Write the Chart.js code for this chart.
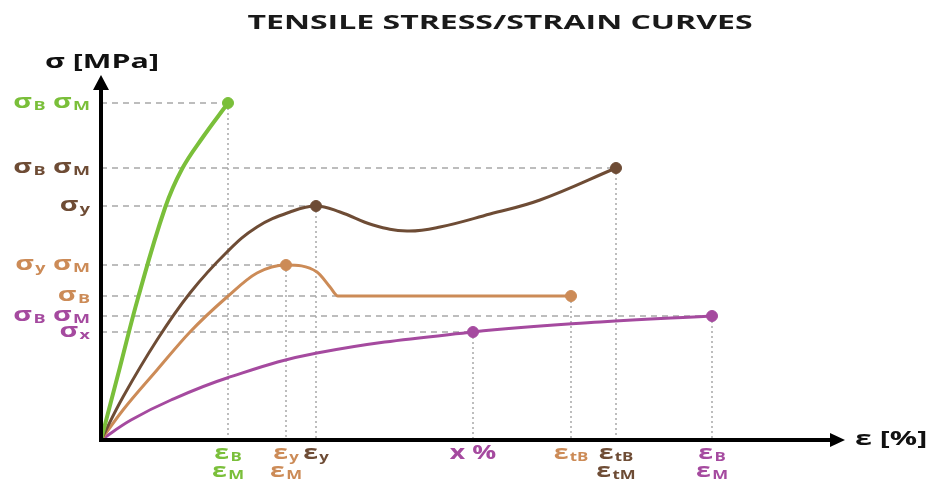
<!DOCTYPE html>
<html>
<head>
<meta charset="utf-8">
<script src="https://cdn.jsdelivr.net/npm/chart.js@4.4.1/dist/chart.umd.min.js"></script>
<style>
  html, body { margin: 0; padding: 0; background: #fff; }
  canvas { display: block; }
</style>
</head>
<body>
<canvas id="chart" width="928" height="482"></canvas>
<script>
'use strict';

// curves (strain in %, stress in MPa, arbitrary units)
var greenCurve = [[0,0],[1.9,7.3],[3.7,14.2],[6.4,23.2],[8.1,27.1],[10.2,30.3],[12.7,33.7]];
var brownCurve = [[0,0],[2.2,4.3],[5.6,10.0],[8.9,14.7],[12.6,18.8],[15.6,21.3],[18.9,22.8],[21.5,23.4],[23.9,22.8],[27.2,21.5],[30.6,20.9],[33.9,21.3],[38.9,22.6],[43.9,24.0],[51.5,27.2]];
var orangeCurve = [[0,0],[2.2,3.0],[5.6,7.0],[8.9,10.8],[12.6,14.3],[15.6,16.7],[18.5,17.5],[21.6,16.8],[22.9,15.3],[23.7,14.4],[26.0,14.4],[35.0,14.4],[47.0,14.4]];
var purpleCurve = [[0,0],[3.0,2.0],[7.0,4.0],[12.6,6.2],[21.6,8.7],[37.2,10.8],[49.9,11.8],[61.1,12.4]];

// marked points
var greenMarks = [[12.7,33.7]];
var brownMarks = [[21.5,23.4],[51.5,27.2]];
var orangeMarks = [[18.5,17.5],[47.0,14.4]];
var purpleMarks = [[37.2,10.8],[61.1,12.4]];

// tick labels
var yTickValues = [33.7, 27.2, 23.4, 17.5, 14.4, 12.4, 10.8];
var yTickLabels = ['σ_B σ_M', 'σ_B σ_M', 'σ_y', 'σ_y σ_M', 'σ_B', 'σ_B σ_M', 'σ_x'];
var yTickSeries = ['green', 'brown', 'brown', 'orange', 'orange', 'purple', 'purple'];

var xTickValues = [12.7, 18.5, 21.5, 37.2, 47.0, 51.5, 61.1];
var xTickLabels1 = ['ε_B', 'ε_y', 'ε_y', 'x %', 'ε_tB', 'ε_tB', 'ε_B'];
var xTickLabels2 = ['ε_M', 'ε_M', '', '', '', 'ε_tM', 'ε_M'];
var xTickSeries = ['green', 'orange', 'brown', 'purple', 'orange', 'brown', 'purple'];

var xMax = 74.4, yMax = 36.5;

var colors = {
   green: '#7abf3a',
   brown: '#6e4c35',
   orange: '#cc8b57',
   purple: '#a54a9f'
};

var FONT = '"Open Sans", sans-serif';

function pts(arr) {
   return arr.map(function (p) { return { x: p[0], y: p[1] }; });
}

var datasets = [];

// dashed guides from every marked point to both axes
[greenMarks, brownMarks, orangeMarks, purpleMarks].forEach(function (marks) {
   marks.forEach(function (m) {
      datasets.push({
         data: [{ x: 0, y: m[1] }, { x: m[0], y: m[1] }],
         borderColor: '#a8a8a8', borderWidth: 1.5, borderDash: [6, 5],
         pointRadius: 0, tension: 0, order: 10
      });
      datasets.push({
         data: [{ x: m[0], y: m[1] }, { x: m[0], y: 0 }],
         borderColor: '#a8a8a8', borderWidth: 1.5, borderDash: [2, 3],
         pointRadius: 0, tension: 0, order: 10
      });
   });
});

// orange has a sharp drop into a flat plateau, monotone keeps it from overshooting
[
   [greenCurve, greenMarks, 'green', 4, 'default'],
   [brownCurve, brownMarks, 'brown', 3, 'default'],
   [orangeCurve, orangeMarks, 'orange', 3, 'monotone'],
   [purpleCurve, purpleMarks, 'purple', 3, 'default']
].forEach(function (s) {
   datasets.push({
      data: pts(s[0]),
      borderColor: colors[s[2]], borderWidth: s[3],
      cubicInterpolationMode: s[4], tension: 0.4,
      pointRadius: 0, order: 5
   });
   datasets.push({
      data: pts(s[1]),
      showLine: false,
      backgroundColor: colors[s[2]], borderColor: colors[s[2]],
      pointRadius: 5.5, pointHoverRadius: 5.5, order: 1
   });
});

// text with a subscript part: "σ_B" -> σ + small B; sx stretches the glyphs sideways
function measureLabel(ctx, label, big, small, sx) {
   var w = 0;
   label.split(' ').forEach(function (tok, i) {
      var parts = tok.split('_');
      ctx.font = 'bold ' + big + 'px ' + FONT;
      if (i > 0) w += ctx.measureText(' ').width;
      w += ctx.measureText(parts[0]).width;
      if (parts[1]) {
         ctx.font = 'bold ' + small + 'px ' + FONT;
         w += ctx.measureText(parts[1]).width + 1;
      }
   });
   return w * sx;
}

function drawLabel(ctx, label, x, y, align, big, small, color, sx) {
   var w = measureLabel(ctx, label, big, small, sx);
   var cx = align === 'right' ? x - w : (align === 'center' ? x - w / 2 : x);
   ctx.save();
   ctx.fillStyle = color;
   ctx.textBaseline = 'alphabetic';
   ctx.textAlign = 'left';
   ctx.translate(cx, y);
   ctx.scale(sx, 1);
   var pos = 0;
   label.split(' ').forEach(function (tok, i) {
      var parts = tok.split('_');
      ctx.font = 'bold ' + big + 'px ' + FONT;
      if (i > 0) pos += ctx.measureText(' ').width;
      ctx.fillText(parts[0], pos, 0);
      pos += ctx.measureText(parts[0]).width;
      if (parts[1]) {
         pos += 1;
         ctx.font = 'bold ' + small + 'px ' + FONT;
         ctx.fillText(parts[1], pos, 1.5);
         pos += ctx.measureText(parts[1]).width;
      }
   });
   ctx.restore();
}

var decorations = {
   id: 'decorations',
   afterDraw: function (chart) {
      var ctx = chart.ctx;
      var xs = chart.scales.x, ys = chart.scales.y;
      var x0 = xs.getPixelForValue(0), y0 = ys.getPixelForValue(0);
      var xEnd = xs.getPixelForValue(xMax), yEnd = ys.getPixelForValue(yMax);

      // axes with arrow heads
      ctx.save();
      ctx.strokeStyle = '#000';
      ctx.fillStyle = '#000';
      ctx.lineWidth = 4;
      ctx.beginPath();
      ctx.moveTo(x0, y0 + 2);
      ctx.lineTo(x0, yEnd + 12);
      ctx.moveTo(x0 - 2, y0);
      ctx.lineTo(xEnd - 12, y0);
      ctx.stroke();
      ctx.beginPath();
      ctx.moveTo(x0, yEnd);
      ctx.lineTo(x0 - 8, yEnd + 15);
      ctx.lineTo(x0 + 8, yEnd + 15);
      ctx.closePath();
      ctx.fill();
      ctx.beginPath();
      ctx.moveTo(xEnd, y0);
      ctx.lineTo(xEnd - 15, y0 - 7);
      ctx.lineTo(xEnd - 15, y0 + 7);
      ctx.closePath();
      ctx.fill();
      ctx.restore();

      // title and axis names
      drawLabel(ctx, 'TENSILE STRESS/STRAIN CURVES', 500, 29, 'center', 20, 12, '#1a1a1a', 1.6);
      drawLabel(ctx, 'σ [MPa]', 45, 68, 'left', 19, 12, '#111', 1.6);
      drawLabel(ctx, 'ε [%]', 855, 445, 'left', 19, 12, '#111', 1.6);

      // y tick labels
      yTickValues.forEach(function (v, i) {
         drawLabel(ctx, yTickLabels[i], 90, ys.getPixelForValue(v) + 5, 'right', 19, 12, colors[yTickSeries[i]], 1.5);
      });
      // x tick labels, two rows
      xTickValues.forEach(function (v, i) {
         var px = xs.getPixelForValue(v);
         var c = colors[xTickSeries[i]];
         if (xTickLabels1[i]) drawLabel(ctx, xTickLabels1[i], px, 459, 'center', 19, 12, c, 1.4);
         if (xTickLabels2[i]) drawLabel(ctx, xTickLabels2[i], px, 477, 'center', 19, 12, c, 1.4);
      });
   }
};

var ctx = document.getElementById('chart').getContext('2d');
window.myChart = new Chart(ctx, {
   type: 'line',
   data: { datasets: datasets },
   options: {
      responsive: false,
      animation: false,
      events: [],
      layout: { padding: { left: 101, right: 83, top: 75, bottom: 42 } },
      elements: { line: { clip: false } },
      plugins: { legend: { display: false }, tooltip: { enabled: false } },
      scales: {
         x: { type: 'linear', min: 0, max: xMax, display: false },
         y: { type: 'linear', min: 0, max: yMax, display: false }
      }
   },
   plugins: [decorations]
});
</script>
</body>
</html>
